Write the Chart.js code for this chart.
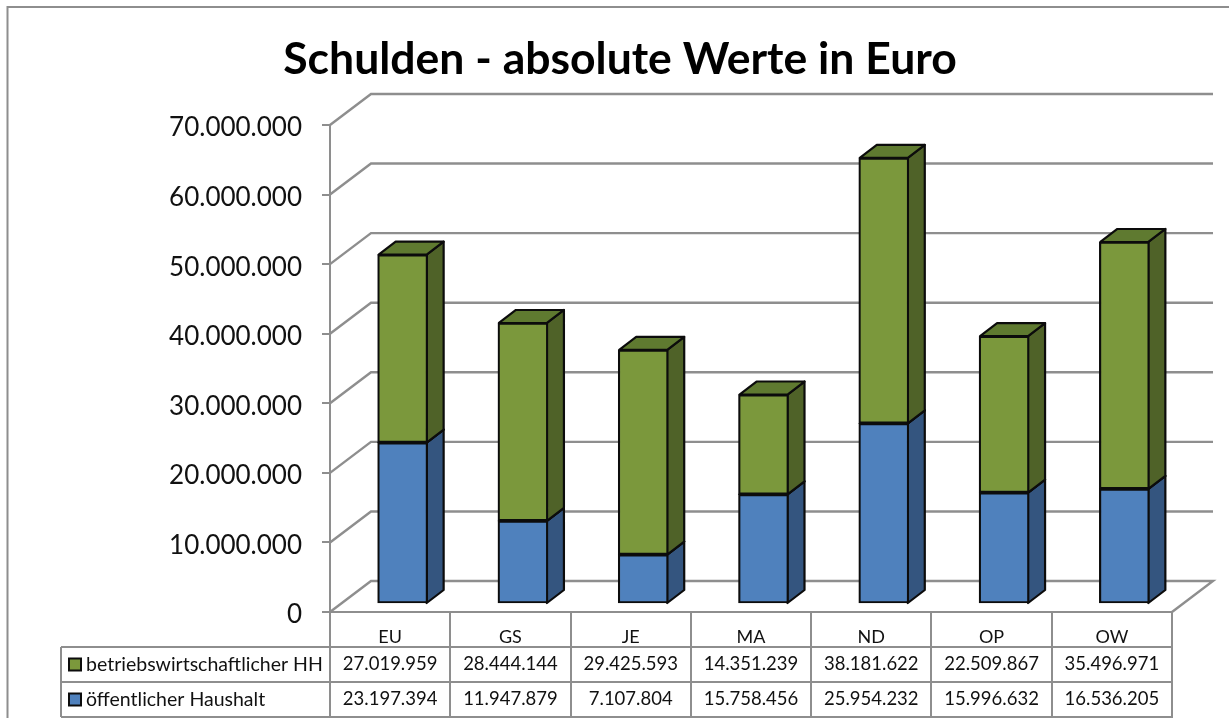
<!DOCTYPE html>
<html><head><meta charset="utf-8">
<style>html,body{margin:0;padding:0;background:#fff}canvas{display:block}</style>
<script src="https://cdn.jsdelivr.net/npm/chart.js@4"></script>
</head><body><canvas id="c" width="1229" height="718"></canvas>
<script>
const categories=["EU","GS","JE","MA","ND","OP","OW"];
const betriebswirtschaftlich=[27019959,28444144,29425593,14351239,38181622,22509867,35496971];
const oeffentlich=[23197394,11947879,7107804,15758456,25954232,15996632,16536205];
const seriesNames=["betriebswirtschaftlicher HH","öffentlicher Haushalt"];
const fontFam='Lato, sans-serif', GRAY='#8e8e8e', INK='#0c0c0c';
const fmt=v=>v.toLocaleString('de-DE');
const WALL={dx:41,dy:-31}, SHIFT={dx:12.5,dy:-8}, DEPTH={dx:17,dy:-13};
const faces=[
 {front:'#4f81bd',side:'#34557f',top:'#3f6797'},
 {front:'#7b983c',side:'#4f6228',top:'#5f7a30'}];
const ROWS={top:647,mid:682,bottom:717,left:61};

function poly(ctx,pts,fill){
  ctx.beginPath();pts.forEach((p,i)=>i?ctx.lineTo(p[0],p[1]):ctx.moveTo(p[0],p[1]));ctx.closePath();
  ctx.fillStyle=fill;ctx.fill();ctx.stroke();
}
function seg(ctx,x0,y0,x1,y1){ctx.beginPath();ctx.moveTo(x0,y0);ctx.lineTo(x1,y1);ctx.stroke();}

const scene={
 id:'scene',
 beforeDraw(chart){
  const c=chart.ctx;c.save();
  c.fillStyle='#fff';c.fillRect(0,0,chart.width,chart.height);
  c.strokeStyle=GRAY;c.lineWidth=2;
  c.beginPath();c.moveTo(7.5,718);c.lineTo(7.5,7);c.lineTo(1229,7);c.stroke();
  c.restore();
  const y=chart.scales.y;
  if(!y._nudged){
    const orig=y.drawLabels.bind(y);
    y.drawLabels=function(area){c.save();c.translate(0,3);orig(area);c.restore();};
    y._nudged=true;
  }
 },
 beforeDatasetsDraw(chart){
  const c=chart.ctx,{chartArea:a,scales:{y}}=chart;
  c.save();
  c.strokeStyle=GRAY;c.lineWidth=2.4;
  y.ticks.forEach(t=>{
    const p=y.getPixelForValue(t.value);
    c.beginPath();c.moveTo(a.left,p);c.lineTo(a.left+WALL.dx,p+WALL.dy);c.lineTo(a.right+WALL.dx,p+WALL.dy);
    if(t.value===0)c.lineTo(a.right,p);
    c.stroke();
  });
  c.restore();
  c.save();
  c.translate(SHIFT.dx,SHIFT.dy);
  c.strokeStyle=INK;c.lineWidth=2.2;c.lineJoin='round';
  chart.data.datasets.forEach((ds,i)=>{
    chart.getDatasetMeta(i).data.forEach(b=>{
      const r=b.x+b.width/2-1,l=b.x-b.width/2+1;
      poly(c,[[r,b.y],[r+DEPTH.dx,b.y+DEPTH.dy],[r+DEPTH.dx,b.base+DEPTH.dy],[r,b.base]],faces[i].side);
      poly(c,[[l,b.y],[l+DEPTH.dx,b.y+DEPTH.dy],[r+DEPTH.dx,b.y+DEPTH.dy],[r,b.y]],faces[i].top);
    });
  });
 },
 afterDatasetsDraw(chart){chart.ctx.restore();},
 afterDraw(chart){
  const c=chart.ctx,{chartArea:a,scales:{x}}=chart;
  c.save();
  c.strokeStyle=GRAY;c.lineWidth=2;
  const step=(a.right-a.left)/categories.length;
  for(let i=0;i<=categories.length;i++){const px=Math.round(a.left+i*step);seg(c,px,a.bottom,px,ROWS.bottom+1);}
  [ROWS.top,ROWS.mid,ROWS.bottom].forEach(r=>seg(c,ROWS.left,r,a.right,r));
  seg(c,ROWS.left,ROWS.top,ROWS.left,ROWS.bottom);
  c.textBaseline='middle';c.fillStyle='#111';
  const rows=[[betriebswirtschaftlich,1,ROWS.top],[oeffentlich,0,ROWS.mid]];
  rows.forEach(([vals,fi,top],ri)=>{
    const cy=top+17.5;
    c.lineWidth=2;c.strokeStyle=INK;c.fillStyle=faces[fi].front;
    c.fillRect(69,cy-6,12,12);c.strokeRect(69,cy-6,12,12);
    c.fillStyle='#111';c.textAlign='left';
    c.font='19.5px '+fontFam;
    c.fillText(seriesNames[ri],86,cy);
    c.textAlign='center';
    c.font='18.5px '+fontFam;
    vals.forEach((v,i)=>c.fillText(fmt(v),x.getPixelForValue(i),cy));
  });
  c.restore();
 }
};

const barStyle={borderColor:INK,borderWidth:2.2,borderSkipped:false,barThickness:50,clip:false};
new Chart(document.getElementById('c'),{
 type:'bar',
 data:{labels:categories,datasets:[
  {label:seriesNames[1],data:oeffentlich,backgroundColor:faces[0].front,...barStyle},
  {label:seriesNames[0],data:betriebswirtschaftlich,backgroundColor:faces[1].front,...barStyle}
 ]},
 plugins:[scene],
 options:{
  responsive:false,animation:false,
  layout:{autoPadding:false,padding:{left:68,right:57,top:0,bottom:0}},
  plugins:{
   legend:{display:false},tooltip:{enabled:false},
   title:{display:true,text:'Schulden - absolute Werte in Euro',color:'#000',
    font:{family:fontFam,size:44.5,weight:'bold',lineHeight:1},padding:{top:37,bottom:43.5}}
  },
  scales:{
   x:{stacked:true,
     afterFit(s){s.height=106;},
     grid:{display:false},border:{display:true,color:GRAY,width:2},
     ticks:{color:'#111',font:{family:fontFam,size:18},padding:6,maxRotation:0}},
   y:{stacked:true,min:0,max:70000000,
     afterFit(s){s.width=262;},
     afterBuildTicks(s){s.ticks=[0,1,2,3,4,5,6,7].map(k=>({value:k*10000000}));},
     grid:{drawOnChartArea:false,drawTicks:true,tickLength:8,color:GRAY,lineWidth:2},
     border:{display:true,color:GRAY,width:2},
     ticks:{color:'#111',font:{family:fontFam,size:26},padding:20,callback:v=>fmt(v)}}
  }
 }
});
</script></body></html>
